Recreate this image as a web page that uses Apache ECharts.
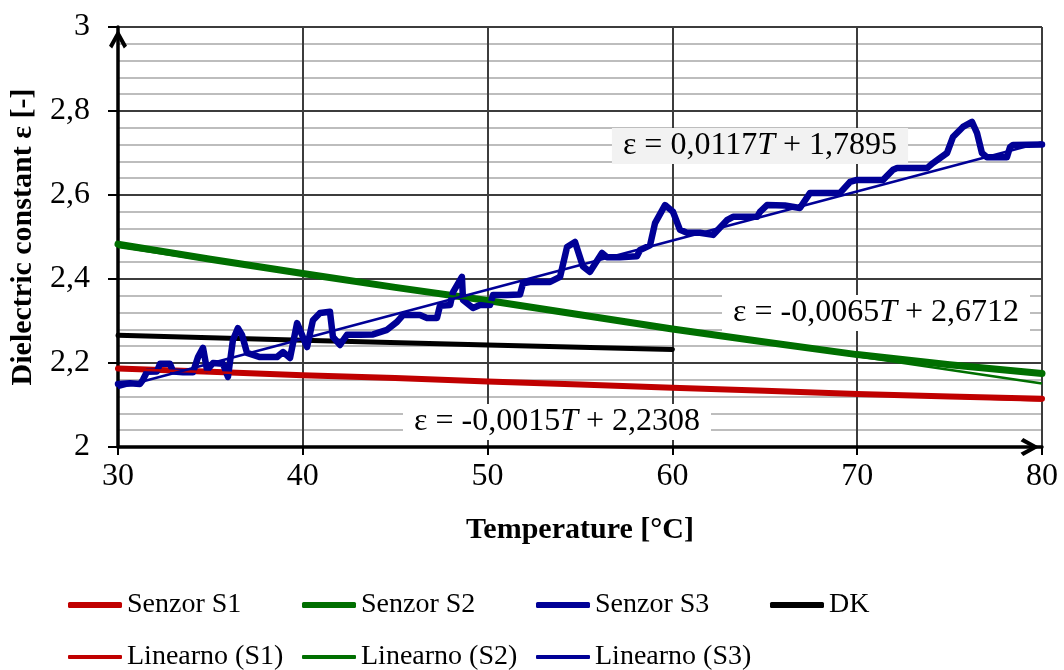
<!DOCTYPE html>
<html>
<head>
<meta charset="utf-8">
<script src="https://cdn.jsdelivr.net/npm/echarts@6/dist/echarts.min.js"></script>
<style>html,body{margin:0;padding:0;background:#fff}#c{width:1064px;height:670px}</style>
</head>
<body>
<div id="c"></div>
<script>
// Data: [temperature °C, dielectric constant]
const senzorS1 = [[30,2.187],[35,2.179],[40,2.171],[45,2.164],[50,2.156],[55,2.149],[60,2.141],[65,2.134],[70,2.126],[75,2.120],[80,2.115]];
const senzorS2 = [[30,2.483],[35,2.447],[40,2.413],[45,2.380],[50,2.349],[55,2.315],[60,2.281],[65,2.250],[70,2.220],[75,2.196],[80,2.175]];
const senzorDK = [[30,2.266],[40,2.254],[50,2.243],[60,2.232]];
const senzorS3 = [
 [30.0,2.150],[30.65,2.152],[31.19,2.150],[31.35,2.160],[31.57,2.179],[32.11,2.180],[32.27,2.198],[32.81,2.198],
 [32.98,2.180],[33.52,2.178],[34.06,2.178],[34.33,2.214],[34.60,2.236],[34.82,2.183],[35.14,2.200],[35.68,2.198],
 [35.95,2.167],[36.22,2.255],[36.49,2.283],[36.71,2.267],[36.98,2.224],[37.68,2.214],[38.60,2.214],[38.93,2.226],
 [39.31,2.212],[39.69,2.295],[40.23,2.238],[40.55,2.302],[40.93,2.319],[41.47,2.322],[41.63,2.262],[42.01,2.243],
 [42.39,2.267],[43.10,2.267],[43.80,2.268],[44.56,2.279],[45.10,2.298],[45.42,2.314],[46.34,2.314],[46.72,2.307],
 [47.26,2.307],[47.42,2.336],[47.97,2.338],[48.13,2.369],[48.61,2.405],[48.67,2.350],[49.21,2.331],[49.59,2.338],
 [50.13,2.338],[50.29,2.362],[51.05,2.362],[51.75,2.363],[51.92,2.390],[52.29,2.393],[53.38,2.393],[53.92,2.405],
 [54.30,2.476],[54.73,2.488],[55.16,2.430],[55.54,2.417],[56.19,2.462],[56.46,2.452],[57.16,2.452],[58.08,2.454],
 [58.25,2.469],[58.79,2.480],[59.06,2.533],[59.60,2.576],[60.03,2.560],[60.41,2.517],[60.79,2.510],[61.49,2.510],
 [62.20,2.505],[62.95,2.540],[63.28,2.548],[64.58,2.548],[64.74,2.560],[65.12,2.576],[66.09,2.575],[66.90,2.569],
 [67.45,2.605],[69.07,2.605],[69.61,2.631],[69.99,2.636],[71.40,2.636],[71.94,2.660],[72.16,2.664],[73.78,2.664],
 [74.10,2.676],[74.86,2.700],[75.18,2.738],[75.72,2.762],[76.21,2.774],[76.48,2.748],[76.75,2.700],[77.02,2.690],
 [78.10,2.690],[78.27,2.714],[78.43,2.719],[80.00,2.720]
];
const linearS1 = [[30,2.1858],[80,2.1108]];
const linearS2 = [[30,2.4762],[80,2.1512]];
const linearS3 = [[30,2.1405],[80,2.7255]];
const xTicks = {min:30, max:80, step:10};
const yTicks = {min:2, max:3, step:0.2};
const equations = ['ε = 0,0117|T| + 1,7895', 'ε = -0,0065|T| + 2,6712', 'ε = -0,0015|T| + 2,2308'];

const FONT = 'Liberation Serif';
const RED = '#c00000', GREEN = '#006f00', BLUE = '#000096', BLACK = '#000000';
const arrow = 'path://M10,0 L20,18 L16.5,21 L10,9 L3.5,21 L0,18 Z';

function thick(name, data, color, w) {
  return {name, type:'line', data, symbol:'none', showSymbol:false, silent:true,
    lineStyle:{color, width:w, cap:'round', join:'round'}, itemStyle:{color}, z:3};
}
function thin(name, data, color) {
  return {name, type:'line', data, symbol:'none', showSymbol:false, silent:true,
    lineStyle:{color, width:2.5}, itemStyle:{color}, z:5};
}
function leg(name, left, top, color, h) {
  return {data:[{name, icon:'roundRect', itemStyle:{color}}], left, top, padding:0,
    itemWidth:54, itemHeight:h, selectedMode:false,
    textStyle:{fontFamily:FONT, fontSize:28, color:'#000'}};
}
function eqText(eq) {
  const p = eq.split('|');
  return '{a|' + p[0] + '}{i|' + p[1] + '}{a|' + p[2] + '}';
}
const rich = {a:{fontFamily:FONT, fontSize:32, fill:'#000'}, i:{fontFamily:FONT, fontSize:32, fontStyle:'italic', fill:'#000'}};

const chart = echarts.init(document.getElementById('c'));
chart.setOption({
  animation:false,
  backgroundColor:'#fff',
  grid:{left:118, right:22, top:27, bottom:223, containLabel:false},
  xAxis:{type:'value', min:xTicks.min, max:xTicks.max, interval:xTicks.step,
    name:'Temperature [°C]', nameLocation:'middle', nameGap:68,
    nameTextStyle:{fontFamily:FONT, fontSize:30, fontWeight:'bold', color:'#000'},
    axisLine:{show:true, onZero:false, lineStyle:{color:'#000', width:3.5}, symbol:['none', arrow], symbolSize:[18,24], symbolOffset:[0,-12]},
    axisTick:{show:true, length:8, lineStyle:{color:'#000', width:2}},
    axisLabel:{fontFamily:FONT, fontSize:32, color:'#000', margin:14},
    splitLine:{show:true, lineStyle:{color:'#3c3c3c', width:2}}
  },
  yAxis:{type:'value', min:yTicks.min, max:yTicks.max, interval:yTicks.step,
    name:'Dielectric constant ε [-]', nameLocation:'middle', nameGap:80, nameRotate:90,
    nameTextStyle:{fontFamily:FONT, fontSize:30, fontWeight:'bold', color:'#000'},
    axisLine:{show:true, onZero:false, lineStyle:{color:'#000', width:3.5}, symbol:['none', arrow], symbolSize:[18,24], symbolOffset:[0,-12]},
    axisTick:{show:true, length:10, lineStyle:{color:'#000', width:2}},
    axisLabel:{fontFamily:FONT, fontSize:32, color:'#000', margin:28,
      formatter:v => String(+v.toFixed(2)).replace('.', ',')},
    splitLine:{show:true, lineStyle:{color:'#3c3c3c', width:2}},
    minorTick:{show:false, splitNumber:5},
    minorSplitLine:{show:true, lineStyle:{color:'#bdbdbd', width:2}}
  },
  legend:[
    leg('Senzor S1', 68, 591, RED, 6),
    leg('Senzor S2', 302, 591, GREEN, 6),
    leg('Senzor S3', 536, 591, BLUE, 6),
    leg('DK', 770, 591, BLACK, 6),
    leg('Linearno (S1)', 68, 643, RED, 4),
    leg('Linearno (S2)', 302, 643, GREEN, 4),
    leg('Linearno (S3)', 536, 643, BLUE, 4)
  ],
  series:[
    thick('Senzor S1', senzorS1, RED, 6),
    thick('Senzor S2', senzorS2, GREEN, 7),
    thick('DK', senzorDK, BLACK, 5),
    thick('Senzor S3', senzorS3, BLUE, 6.5),
    thin('Linearno (S1)', linearS1, RED),
    thin('Linearno (S2)', linearS2, GREEN),
    thin('Linearno (S3)', linearS3, BLUE)
  ],
  graphic:[
    {type:'text', z:100, style:{x:760, y:146, text:eqText(equations[0]), rich, align:'center', verticalAlign:'middle', backgroundColor:'#f2f2f2', padding:[2,11]}},
    {type:'text', z:100, style:{x:876, y:313, text:eqText(equations[1]), rich, align:'center', verticalAlign:'middle', backgroundColor:'#ffffff', padding:[2,11]}},
    {type:'text', z:100, style:{x:557, y:422, text:eqText(equations[2]), rich, align:'center', verticalAlign:'middle', backgroundColor:'#ffffff', padding:[2,11]}}
  ]
});
</script>
</body>
</html>
